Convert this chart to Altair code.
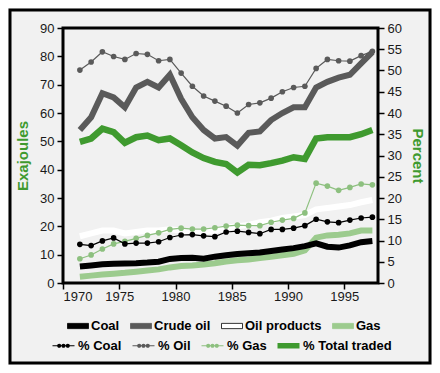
import altair as alt
import pandas as pd

years = list(range(1971, 1998))

# Exajoules (left axis)
coal = [5.8, 6.2, 6.6, 6.8, 6.9, 7.0, 7.2, 7.5, 8.5, 8.8, 8.9, 8.6, 9.3, 9.8, 10.2, 10.5, 10.8, 11.3, 11.8, 12.3, 13.0, 14.0, 12.8, 12.5, 13.3, 14.4, 14.8]
crude_oil = [54, 58.5, 67, 65.5, 62, 69, 71, 69, 73.5, 65, 58.5, 54, 51, 51.5, 48.5, 53, 53.5, 57.5, 60, 62, 62, 69, 71, 72.5, 73.5, 77.5, 81.5]
oil_products = [16.5, 17.5, 18.5, 18.5, 17.5, 18, 18.5, 18.5, 19, 18.5, 18, 18, 18.5, 19.5, 20, 20.5, 21.5, 22, 23, 23.5, 24, 26, 26.5, 27, 27.5, 28.5, 29.3]
gas = [2.2, 2.6, 3.0, 3.3, 3.6, 4.0, 4.4, 4.8, 5.5, 6.0, 6.2, 6.5, 7.0, 7.6, 8.0, 8.3, 8.8, 9.3, 9.8, 10.3, 11.5, 16.0, 16.8, 17.0, 17.5, 18.5, 18.5]

# Percent (right axis)
pct_coal = [9.1, 8.8, 9.9, 10.6, 9.2, 9.4, 9.4, 9.7, 10.7, 11.3, 11.4, 11.1, 10.9, 12.0, 12.2, 11.9, 11.6, 12.6, 12.6, 12.9, 13.5, 15.0, 14.4, 14.2, 14.8, 15.3, 15.5]
pct_oil = [50.1, 52, 54.4, 53.3, 52.6, 54, 53.8, 52.3, 52.6, 49.4, 46.3, 44, 42.8, 41.6, 40, 42, 42.4, 43.5, 45, 46, 46.3, 50.5, 52.6, 52.3, 52.2, 53.5, 54.5]
pct_gas = [5.7, 6.6, 8.0, 9.2, 9.8, 10.5, 11.2, 11.8, 12.6, 12.9, 12.7, 12.7, 13.0, 13.4, 13.6, 13.5, 13.5, 14.3, 14.8, 15.2, 16.5, 23.5, 22.8, 21.8, 22.5, 23.3, 23.1]
pct_total = [33.2, 34, 36.3, 35.5, 33, 34.3, 34.7, 33.6, 34, 32.4, 30.7, 29.4, 28.5, 28, 26, 27.8, 27.7, 28.2, 28.8, 29.6, 29.2, 34, 34.3, 34.3, 34.3, 35, 36]

energy_names = ["Coal", "Crude oil", "Oil products", "Gas"]
energy_colors = ["#000000", "#5a5a5a", "#ffffff", "#9ccb8e"]
energy_strokes = ["#000000", "#5a5a5a", "#000000", "#9ccb8e"]
pct_names = ["% Coal", "% Oil", "% Gas", "% Total traded"]
pct_colors = ["#000000", "#5a5a5a", "#8dc07f", "#3f9a2f"]

x_ticks = [1970, 1975, 1980, 1985, 1990, 1995]
left_ticks = list(range(0, 91, 10))
right_ticks = list(range(0, 61, 5))

def long(names, series):
    rows = []
    for n, vals in zip(names, series):
        for y, v in zip(years, vals):
            rows.append({"year": y, "series": n, "value": v})
    return pd.DataFrame(rows)

edf = long(energy_names, [coal, crude_oil, oil_products, gas])
pdf = long(pct_names, [pct_coal, pct_oil, pct_gas, pct_total])

FONT = "Liberation Sans"
GREEN = "#3f9a2f"
RECT = "M-1,-0.25H1V0.25H-1Z"
DOTS = ("M-1,-0.05H1V0.05H-1Z"
        "M-0.58,0A0.19,0.19 0 1,1 -0.2,0A0.19,0.19 0 1,1 -0.58,0Z"
        "M-0.19,0A0.19,0.19 0 1,1 0.19,0A0.19,0.19 0 1,1 -0.19,0Z"
        "M0.2,0A0.19,0.19 0 1,1 0.58,0A0.19,0.19 0 1,1 0.2,0Z")

xenc = alt.X("x:Q", scale=alt.Scale(domain=[1970, 1998], nice=False),
             axis=alt.Axis(values=x_ticks, format="d", title=None, grid=False,
                           domain=False, tickSize=6, tickColor="black", tickWidth=1.5,
                           labelFontSize=13, labelPadding=1, labelColor="#1a1a1a",
                           labelFont=FONT))

def leg(x, y, offset, pad, size):
    return alt.Legend(title=None, orient="none", legendX=x, legendY=y,
                      direction="horizontal", columns=4, columnPadding=pad,
                      symbolSize=size, labelOffset=offset, labelFontSize=13,
                      labelFontWeight="bold", labelFont=FONT, labelColor="black",
                      symbolStrokeWidth=0.8)

yl = alt.Y("value:Q", scale=alt.Scale(domain=[0, 90], nice=False),
           axis=alt.Axis(values=left_ticks, title="Exajoules", orient="left",
                         grid=False, domain=False, tickSize=6, tickColor="black",
                         tickWidth=1.5, labelFontSize=13, labelPadding=3,
                         labelColor="#1a1a1a", labelFont=FONT,
                         titleColor=GREEN, titleFontSize=15, titleFontWeight="bold",
                         titleFont=FONT, titlePadding=9))

yr = alt.Y("value:Q", scale=alt.Scale(domain=[0, 60], nice=False),
           axis=alt.Axis(values=right_ticks, title="Percent", orient="right",
                         grid=False, domain=False, tickSize=6, tickColor="black",
                         tickWidth=1.5, labelFontSize=13, labelPadding=3,
                         labelColor="#1a1a1a", labelFont=FONT,
                         titleColor=GREEN, titleFontSize=15, titleFontWeight="bold",
                         titleFont=FONT, titleAngle=90, titlePadding=8))

# energy lines (left axis), draw order: gas, coal, oil products, crude oil
e_layers = []
for name in ["Gas", "Coal", "Oil products", "Crude oil"]:
    col = energy_colors[energy_names.index(name)]
    e_layers.append(
        alt.Chart(edf).transform_filter(alt.datum.series == name)
        .transform_calculate(x="datum.year + 0.5")
        .mark_line(strokeWidth=6, strokeJoin="miter", color=col)
        .encode(x=xenc, y=yl)
    )
leg1 = leg(4, 287, 2, 8, 441)
e_legend = alt.Chart(edf).transform_filter("false").mark_point(
    shape=RECT, filled=True, opacity=1).encode(
    color=alt.Color("series:N", scale=alt.Scale(domain=energy_names, range=energy_colors),
                    legend=leg1),
    stroke=alt.Stroke("series:N", scale=alt.Scale(domain=energy_names, range=energy_strokes),
                      legend=leg1),
)
energy = alt.layer(*e_layers, e_legend)

# percent lines (right axis)
p_layers = []
tcol = pct_colors[pct_names.index("% Total traded")]
p_layers.append(
    alt.Chart(pdf).transform_filter(alt.datum.series == "% Total traded")
    .transform_calculate(x="datum.year + 0.5")
    .mark_line(strokeWidth=6.5, strokeJoin="miter", color=tcol)
    .encode(x=xenc, y=yr)
)
for name in ["% Gas", "% Oil", "% Coal"]:
    col = pct_colors[pct_names.index(name)]
    base = (alt.Chart(pdf).transform_filter(alt.datum.series == name)
            .transform_calculate(x="datum.year + 0.5"))
    p_layers.append(base.mark_line(strokeWidth=1.2, color=col).encode(x=xenc, y=yr))
    p_layers.append(base.mark_point(filled=True, size=32, opacity=1, color=col)
                    .encode(x=xenc, y=yr))
leg2 = leg(-11, 306, 3, 10, 484)
p_legend = alt.Chart(pdf).transform_filter("false").mark_point(
    filled=True, opacity=1).encode(
    color=alt.Color("series:N", scale=alt.Scale(domain=pct_names, range=pct_colors),
                    legend=leg2),
    shape=alt.Shape("series:N", scale=alt.Scale(domain=pct_names, range=[DOTS, DOTS, DOTS, RECT]),
                    legend=leg2),
)
pct = alt.layer(*p_layers, p_legend)

frame = alt.Chart(pd.DataFrame({"a": [0]})).mark_rect(
    filled=False, stroke="black", strokeWidth=3).encode(
    x=alt.value(-53), x2=alt.value(367), y=alt.value(-18), y2=alt.value(335))

chart = alt.layer(energy, pct, frame).resolve_scale(
    y="independent", color="independent", stroke="independent", shape="independent"
).resolve_legend(color="independent", stroke="independent", shape="independent").properties(
    width=315, height=255,
    autosize=alt.AutoSizeParams(type="none"),
    padding={"left": 55, "top": 20, "right": 54, "bottom": 82},
    background="#f1f1f1",
).configure_view(fill="#dfe8d9", stroke="black", strokeWidth=3)

chart.save("out.html", embed_options={"renderer": "svg", "actions": False})
